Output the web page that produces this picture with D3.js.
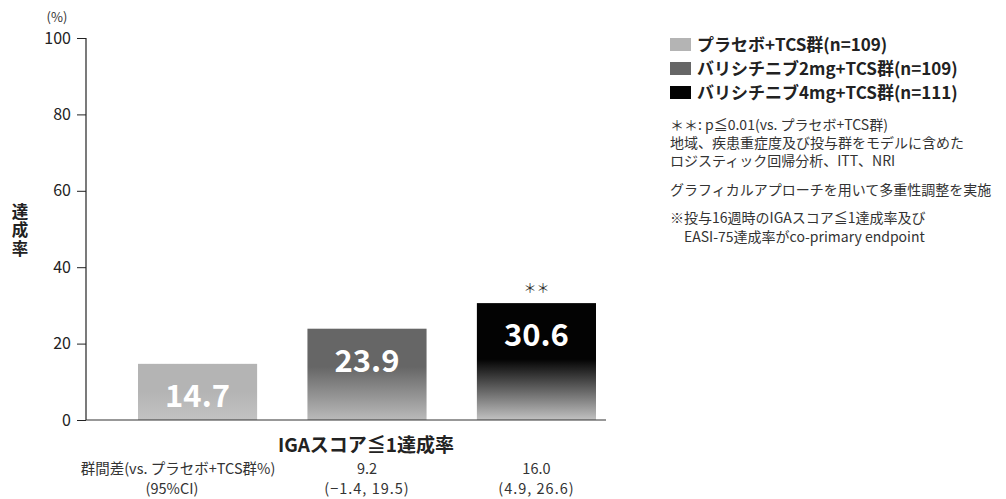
<!DOCTYPE html>
<html><head><meta charset="utf-8">
<script src="https://cdn.jsdelivr.net/npm/d3@7"></script>
<style>
html,body{margin:0;padding:0;background:#fff;}
text{font-family:"Noto Sans CJK JP","Noto Sans",sans-serif;}
</style></head>
<body>
<svg id="chart" width="1006" height="499"></svg>
<script>
// ---- data ----
const categories = ["プラセボ+TCS群(n=109)", "バリシチニブ2mg+TCS群(n=109)", "バリシチニブ4mg+TCS群(n=111)"];
const values = [14.7, 23.9, 30.6];
const significance = ["", "", "**"];
const diffValues = ["", "9.2", "16.0"];
const diffCI = ["", "(−1.4, 19.5)", "(4.9, 26.6)"];
const yTicks = [0, 20, 40, 60, 80, 100];
const yTitle = "達成率";
const barColors = ["#b4b4b4", "#666666", "#030303"];
const notes = [
  "＊＊: p≦0.01(vs. プラセボ+TCS群)",
  "地域、疾患重症度及び投与群をモデルに含めた",
  "ロジスティック回帰分析、ITT、NRI",
  "グラフィカルアプローチを用いて多重性調整を実施",
  "※投与16週時のIGAスコア≦1達成率及び",
  "　EASI-75達成率がco-primary endpoint"
];

const svg = d3.select("#chart");
const x = d3.scaleBand().domain(d3.range(categories.length)).range([138, 596]).paddingInner(0.297).paddingOuter(0);
const y = d3.scaleLinear().domain([0, 100]).range([420, 38]);

// gradients
const defs = svg.append("defs");
const bottoms = ["#c2c2c2", "#bababa", "#c2c2c2"];
const mids = [0.5, 0.42, 0.48];
barColors.forEach((c, i) => {
  const g = defs.append("linearGradient").attr("id", "g" + i).attr("x1", 0).attr("y1", 0).attr("x2", 0).attr("y2", 1);
  g.append("stop").attr("offset", 0).attr("stop-color", c);
  g.append("stop").attr("offset", mids[i]).attr("stop-color", c);
  g.append("stop").attr("offset", 1).attr("stop-color", bottoms[i]);
});

const cx = i => x(i) + x.bandwidth() / 2;

// bars
svg.append("g").selectAll("rect").data(values).join("rect")
  .attr("x", (d, i) => x(i))
  .attr("width", x.bandwidth())
  .attr("y", d => y(d))
  .attr("height", d => y(0) - y(d))
  .attr("fill", (d, i) => `url(#g${i})`);

// value labels
svg.append("g").selectAll("text").data(values).join("text")
  .attr("x", (d, i) => cx(i))
  .attr("y", d => y(d) + 43)
  .attr("text-anchor", "middle")
  .attr("fill", "#fff").attr("font-weight", "bold").attr("font-size", 31)
  .text(d => d.toFixed(1));

// significance
svg.append("g").selectAll("text").data(significance).join("text")
  .attr("x", (d, i) => cx(i))
  .attr("y", (d, i) => y(values[i]) - 10)
  .attr("text-anchor", "middle").attr("fill", "#333").attr("font-size", 13)
  .text(d => d === "**" ? "＊＊" : d);

// y axis
const yAxis = d3.axisLeft(y).tickValues(yTicks).tickSize(9).tickPadding(6);
const ga = svg.append("g").attr("transform", "translate(86,0)").call(yAxis);
ga.select(".domain").attr("stroke", "#222").attr("stroke-width", 1.2).attr("d", "M0,38V420");
ga.selectAll(".tick line").attr("stroke", "#222");
ga.selectAll(".tick text").attr("font-size", 16).attr("fill", "#222")
  .attr("font-family", "'Noto Sans CJK JP', sans-serif");

// x baseline
svg.append("line").attr("x1", 86).attr("x2", 606).attr("y1", y(0)).attr("y2", y(0))
  .attr("stroke", "#333").attr("stroke-width", 1.2);

// (%)
svg.append("text").attr("x", 57).attr("y", 22).attr("text-anchor", "middle")
  .attr("font-size", 13).attr("fill", "#333").text("(%)");

// y title vertical
svg.append("text").attr("x", 20).attr("y", 203)
  .attr("writing-mode", "vertical-rl")
  .style("writing-mode", "vertical-rl")
  .attr("letter-spacing", 2)
  .attr("font-size", 16.5).attr("font-weight", "bold").attr("fill", "#222")
  .text(yTitle);

// x title
svg.append("text").attr("x", 366).attr("y", 452).attr("text-anchor", "middle")
  .attr("font-size", 19).attr("font-weight", "bold").attr("fill", "#222").text("IGAスコア≦1達成率");

// group diff rows
const rowFont = 14.5;
svg.append("text").attr("x", 178).attr("y", 474).attr("text-anchor", "middle")
  .attr("font-size", rowFont).attr("fill", "#333").text("群間差(vs. プラセボ+TCS群%)");
svg.append("text").attr("x", 172).attr("y", 494).attr("text-anchor", "middle")
  .attr("font-size", rowFont).attr("fill", "#333").text("(95%CI)");
svg.append("g").selectAll("text").data(diffValues).join("text")
  .attr("x", (d, i) => cx(i)).attr("y", 474)
  .attr("text-anchor", "middle").attr("font-size", rowFont).attr("fill", "#333").text(d => d);
svg.append("g").selectAll("text").data(diffCI).join("text")
  .attr("x", (d, i) => cx(i)).attr("y", 494)
  .attr("text-anchor", "middle").attr("font-size", rowFont).attr("letter-spacing", 1).attr("fill", "#333").text(d => d);

// legend
const lg = svg.append("g").selectAll("g").data(categories).join("g")
  .attr("transform", (d, i) => `translate(670,${38 + i * 24})`);
lg.append("rect").attr("width", 21).attr("height", 13).attr("fill", (d, i) => barColors[i]);
lg.append("text").attr("x", 27).attr("y", 13).attr("font-size", 17).attr("font-weight", "bold")
  .attr("fill", "#222").text(d => d);

// notes
const noteY = [130, 148, 166, 195, 223, 242];
svg.append("g").selectAll("text").data(notes).join("text")
  .attr("x", 670).attr("y", (d, i) => noteY[i])
  .attr("font-size", 14).attr("fill", "#333").text(d => d);
</script>
</body></html>
